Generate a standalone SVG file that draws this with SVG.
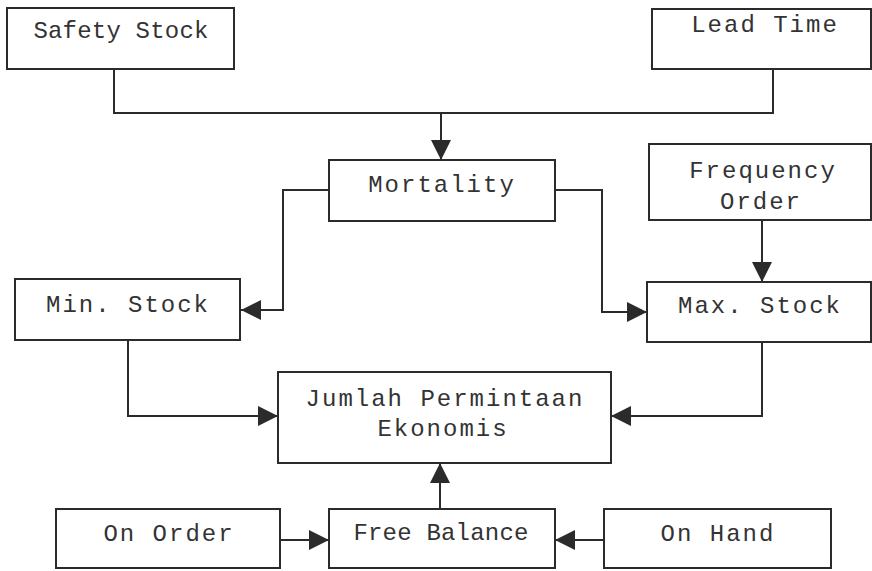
<svg xmlns="http://www.w3.org/2000/svg" width="872" height="571" viewBox="0 0 872 571">
  <style>
    .box { fill: #ffffff; stroke: #2b2b2b; stroke-width: 2; }
    .lbl { font-family: "Liberation Mono", "Courier New", monospace; font-size: 24px; fill: #333333; text-anchor: middle; letter-spacing: 2px; }
    .tight { letter-spacing: 0.2px; }
    .wire { fill: none; stroke: #2b2b2b; stroke-width: 2; }
  </style>
  <defs>
    <marker id="arrow" markerUnits="userSpaceOnUse" markerWidth="20" markerHeight="20" refX="20" refY="10" orient="auto">
      <path d="M0,0 L20,10 L0,20 Z" fill="#2b2b2b"/>
    </marker>
  </defs>
  <rect width="872" height="571" fill="#ffffff"/>

  <!-- connectors -->
  <g id="connectors">
    <path class="wire" d="M114,69 V113 H773 V69"/>
    <path class="wire" d="M441,113 V160" marker-end="url(#arrow)"/>
    <path class="wire" d="M329,190 H283 V310 H241" marker-end="url(#arrow)"/>
    <path class="wire" d="M555,190 H602 V312 H647" marker-end="url(#arrow)"/>
    <path class="wire" d="M762,220 V282" marker-end="url(#arrow)"/>
    <path class="wire" d="M128,340 V416 H278" marker-end="url(#arrow)"/>
    <path class="wire" d="M762,342 V416 H611" marker-end="url(#arrow)"/>
    <path class="wire" d="M280,540 H329" marker-end="url(#arrow)"/>
    <path class="wire" d="M604,540 H555" marker-end="url(#arrow)"/>
    <path class="wire" d="M440,509 V463" marker-end="url(#arrow)"/>
  </g>

  <g id="safety-stock">
    <rect class="box" x="7" y="8" width="227" height="61"/>
    <text class="lbl tight" x="121" y="38">Safety Stock</text>
  </g>
  <g id="lead-time">
    <rect class="box" x="652" y="9" width="219" height="60"/>
    <text class="lbl" x="765" y="32">Lead Time</text>
  </g>
  <g id="mortality">
    <rect class="box" x="329" y="160" width="226" height="61"/>
    <text class="lbl" x="442" y="192">Mortality</text>
  </g>
  <g id="frequency-order">
    <rect class="box" x="649" y="144" width="222" height="76"/>
    <text class="lbl" x="763" y="178">Frequency</text>
    <text class="lbl" x="761" y="209">Order</text>
  </g>
  <g id="min-stock">
    <rect class="box" x="15" y="279" width="225" height="61"/>
    <text class="lbl" x="128" y="312">Min. Stock</text>
  </g>
  <g id="max-stock">
    <rect class="box" x="647" y="282" width="224" height="60"/>
    <text class="lbl" x="760" y="313">Max. Stock</text>
  </g>
  <g id="jumlah-permintaan-ekonomis">
    <rect class="box" x="278" y="372" width="333" height="91"/>
    <text class="lbl" x="445" y="406">Jumlah Permintaan</text>
    <text class="lbl" x="443" y="436">Ekonomis</text>
  </g>
  <g id="on-order">
    <rect class="box" x="56" y="509" width="224" height="59"/>
    <text class="lbl" x="169" y="541">On Order</text>
  </g>
  <g id="free-balance">
    <rect class="box" x="329" y="509" width="226" height="59"/>
    <text class="lbl tight" x="441" y="540">Free Balance</text>
  </g>
  <g id="on-hand">
    <rect class="box" x="604" y="509" width="227" height="59"/>
    <text class="lbl" x="718" y="541">On Hand</text>
  </g>
</svg>
